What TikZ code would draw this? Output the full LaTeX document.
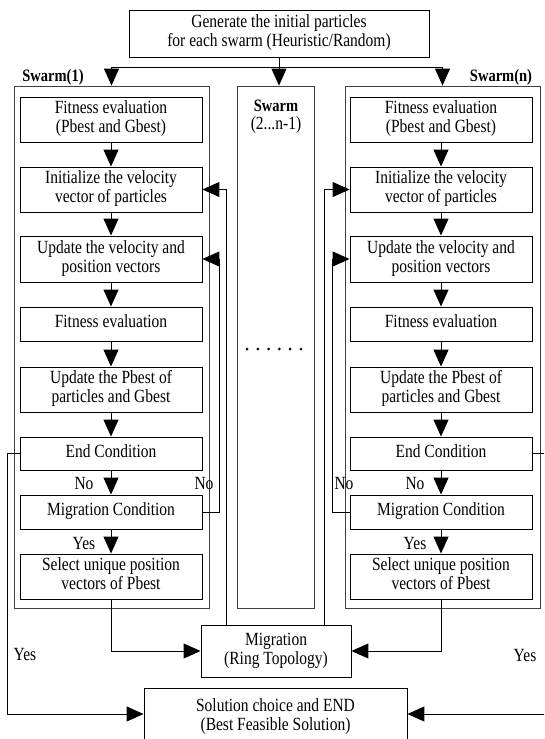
\documentclass[tikz,border=0pt]{standalone}
\usepackage{fontspec}
\setmainfont{Liberation Serif}
\usepackage{graphicx}
\usetikzlibrary{arrows.meta}
\newcommand{\tx}[1]{\scalebox{1}[1.2]{\begin{tabular}{@{}c@{}}#1\end{tabular}}}
\tikzset{
  box/.style={draw, line width=0.9pt, inner sep=0pt, fill=white,
    font=\fontsize{15.5}{15.5}\selectfont},
  inbox/.style={box, minimum width=182pt},
  outer/.style={draw=black!75, line width=0.8pt, inner sep=0pt},
  lab/.style={inner sep=0pt, font=\fontsize{15.5}{15.5}\selectfont},
  blab/.style={inner sep=0pt, font=\fontsize{14.5}{14.5}\selectfont\bfseries},
  conn/.style={line width=1pt},
  arr/.style={conn, -{Triangle[width=15pt,length=17pt]}}
}
\begin{document}
\begin{tikzpicture}[x=1pt,y=-1pt]
\useasboundingbox (0,0) rectangle (544,739);
\clip (0,0) rectangle (544,739);

% outer swarm frames
\node[outer, minimum width=195pt, minimum height=522pt] (sw1) at (111.5,347) {};
\node[outer, minimum width=77pt, minimum height=522pt] (mid) at (275.5,347) {};
\node[outer, minimum width=195pt, minimum height=522pt] (swn) at (442.5,347) {};

\node[blab] (l1) at (53,77) {\scalebox{1}[1.2]{Swarm(1)}};
\node[blab] (ln) at (501,77) {\scalebox{1}[1.2]{Swarm(n)}};
\node[blab] (lm) at (276,106) {\scalebox{1}[1.2]{Swarm}};
\node[lab] (lm2) at (276,125.5) {\scalebox{1}[1.2]{(2...n-1)}};

% dots
\foreach \k in {0,...,5} \fill (247+\k*10.8,349) circle (1.5pt);

% top box
\node[box, minimum width=300pt, minimum height=47pt] (top) at (279,33.5)
  {\tx{Generate the initial particles\\for each swarm (Heuristic/Random)}};

% left column
\node[inbox, minimum height=45pt] (f1) at (111,119.5) {\tx{Fitness evaluation\\(Pbest and Gbest)}};
\node[inbox, minimum height=45pt] (i1) at (111,189.5) {\tx{Initialize the velocity\\vector of particles}};
\node[inbox, minimum height=46pt] (u1) at (111,259) {\tx{Update the velocity and\\position vectors}};
\node[inbox, minimum height=34pt] (fe1) at (111,324) {\tx{Fitness evaluation}};
\node[inbox, minimum height=45pt] (p1) at (111,389.5) {\tx{Update the Pbest of\\particles and Gbest}};
\node[inbox, minimum height=33pt] (e1) at (111,453.5) {\tx{End Condition}};
\node[inbox, minimum height=34pt] (m1) at (111,512) {\tx{Migration Condition}};
\node[inbox, minimum height=45pt] (s1) at (111,576.5) {\tx{Select unique position\\vectors of Pbest}};

% right column
\node[inbox, minimum height=45pt] (f2) at (441,119.5) {\tx{Fitness evaluation\\(Pbest and Gbest)}};
\node[inbox, minimum height=45pt] (i2) at (441,189.5) {\tx{Initialize the velocity\\vector of particles}};
\node[inbox, minimum height=46pt] (u2) at (441,259) {\tx{Update the velocity and\\position vectors}};
\node[inbox, minimum height=34pt] (fe2) at (441,324) {\tx{Fitness evaluation}};
\node[inbox, minimum height=45pt] (p2) at (441,389.5) {\tx{Update the Pbest of\\particles and Gbest}};
\node[inbox, minimum height=33pt] (e2) at (441,453.5) {\tx{End Condition}};
\node[inbox, minimum height=34pt] (m2) at (441,512) {\tx{Migration Condition}};
\node[inbox, minimum height=45pt] (s2) at (441,576.5) {\tx{Select unique position\\vectors of Pbest}};

% migration and solution
\node[box, minimum width=150pt, minimum height=52pt] (mig) at (276,651) {\tx{Migration\\(Ring Topology)}};
\node[box, minimum width=263pt, minimum height=58pt] (sol) at (275.5,717) {\tx{Solution choice and END\\(Best Feasible Solution)}};

% top distribution
\coordinate (j) at ([yshift=-10pt]top.south);
\draw[conn] (top.south) -- (j);
\draw[arr] (j) -| (sw1.north);
\draw[arr] (j) -| (swn.north);
\draw[arr] (j) -- (j |- mid.north);

% vertical chains
\foreach \a/\b in {f1/i1,i1/u1,u1/fe1,fe1/p1,p1/e1,e1/m1,m1/s1,f2/i2,i2/u2,u2/fe2,fe2/p2,p2/e2,e2/m2,m2/s2}
  \draw[arr] (\a.south) -- (\b.north);

% loops
\draw[arr] (m1.east) -- ++(17,0) |- (u1.east);
\draw[arr] (m2.west) -- ++(-17,0) |- (u2.west);
\draw[arr] ([xshift=-50pt]mig.north) |- (i1.east);
\draw[arr] ([xshift=48pt]mig.north) |- (i2.west);

% to migration
\draw[arr] (s1.south) |- (mig.west);
\draw[arr] (s2.south) |- (mig.east);

% end condition yes
\draw[arr] (e1.west) -- ++(-12,0) |- ([yshift=3pt]sol.west);
\draw[arr] (e2.east) -- ++(16,0) |- ([yshift=3pt]sol.east);

% labels
\node[lab] (n1) at (84,483) {\scalebox{1}[1.2]{No}};
\node[lab] (n2) at (204,483) {\scalebox{1}[1.2]{No}};
\node[lab] (n3) at (344,483) {\scalebox{1}[1.2]{No}};
\node[lab] (n4) at (415,483) {\scalebox{1}[1.2]{No}};
\node[lab] (y1) at (84,543) {\scalebox{1}[1.2]{Yes}};
\node[lab] (y2) at (415,543) {\scalebox{1}[1.2]{Yes}};
\node[lab] (y3) at (25,654) {\scalebox{1}[1.2]{Yes}};
\node[lab] (y4) at (525,655) {\scalebox{1}[1.2]{Yes}};
\end{tikzpicture}
\end{document}
